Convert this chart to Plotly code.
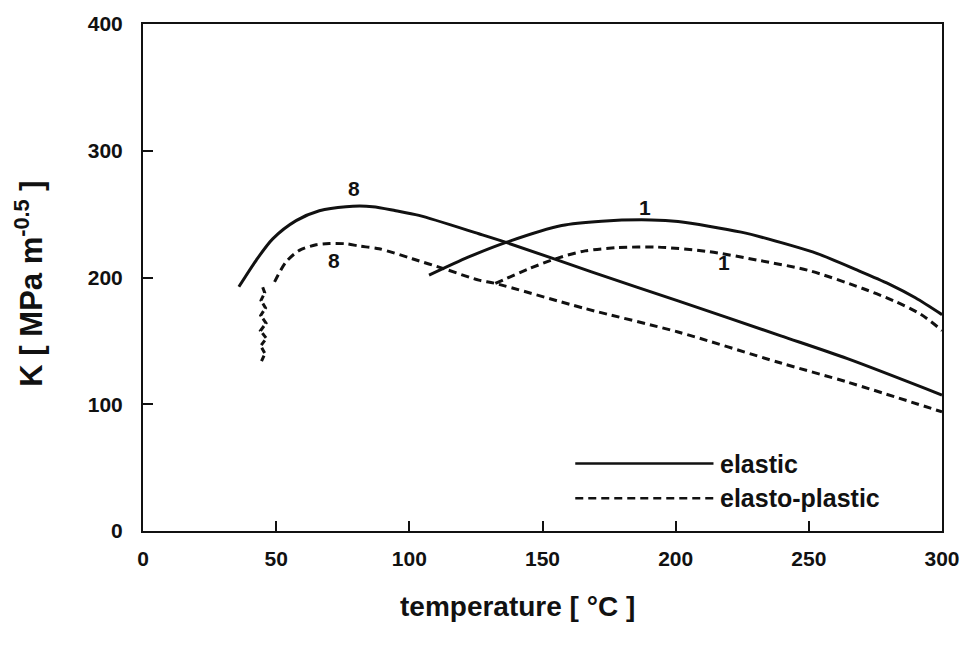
import plotly.graph_objects as go

# Stress intensity K versus temperature, two cases (8 and 1), elastic and elasto-plastic
t_el_8 = [36.0, 42.5, 48.7, 57.5, 66.2, 76.2, 86.2, 94.9, 103.6, 126.1, 136.6,
          168.4, 200.9, 239.5, 264.5, 300.0]
k_el_8 = [192.7, 213.6, 230.5, 244.9, 252.7, 255.9, 255.9, 252.7, 249.0, 234.5, 227.5,
          204.5, 181.5, 154.0, 136.0, 107.3]

t_el_1 = [107.4, 122.3, 136.6, 157.2, 172.2, 190.9, 200.9, 224.6, 243.3, 253.2,
          268.0, 280.0, 290.0, 300.0]
k_el_1 = [201.8, 216.2, 227.9, 241.0, 244.4, 245.4, 244.1, 235.8, 225.3, 218.8,
          206.0, 195.0, 184.0, 170.7]

# elasto-plastic case 8: a jagged vertical start near 45 °C, then a smooth curve
t_pl_8 = [44.5, 45.8, 44.2, 46.3, 44.1, 46.2, 44.2, 46.0, 44.3, 45.7, 44.6,
          49.4, 53.7, 58.7, 65.0, 70.0, 76.2, 81.2, 88.6, 101.1, 113.6, 126.1, 132.3,
          166.0, 200.9, 239.5, 264.5, 300.0]
k_pl_8 = [134.0, 140.0, 146.0, 152.0, 158.0, 164.0, 170.0, 176.0, 182.0, 188.0, 194.3,
          196.6, 212.3, 221.4, 225.8, 226.8, 226.6, 224.8, 222.7, 214.8, 206.5, 197.9, 195.3,
          175.5, 157.0, 132.5, 117.5, 94.0]
n_jagged = 11

t_pl_1 = [132.3, 145.0, 156.0, 166.0, 178.0, 193.0, 212.0, 231.0, 250.0, 270.0,
          282.0, 292.0, 300.0]
k_pl_1 = [195.3, 207.0, 215.5, 221.0, 223.5, 224.0, 220.5, 213.6, 205.5, 191.5,
          181.5, 171.0, 158.2]

# Curve labels: (temperature, K, text)
curve_labels = [(79.3, 270.0, "8"), (71.8, 213.6, "8"), (188.4, 255.3, "1"), (218.3, 212.0, "1")]

x_ticks = [0, 50, 100, 150, 200, 250, 300]
y_ticks = [0, 100, 200, 300, 400]

FONT = "Liberation Sans, Arial, sans-serif"
INK = "#111111"
DASH = "8px,5px"

fig = go.Figure()

solid = dict(color=INK, width=3, shape="spline", smoothing=0.8)
dashed = dict(color=INK, width=3, dash=DASH, shape="spline", smoothing=0.8)

fig.add_trace(go.Scatter(x=t_el_8, y=k_el_8, mode="lines", line=solid, showlegend=False))
fig.add_trace(go.Scatter(x=t_el_1, y=k_el_1, mode="lines", line=solid, showlegend=False))
fig.add_trace(go.Scatter(x=t_pl_8[:n_jagged], y=k_pl_8[:n_jagged], mode="lines",
                         line=dict(color=INK, width=3, dash="6px,3px"), showlegend=False))
fig.add_trace(go.Scatter(x=t_pl_8[n_jagged:], y=k_pl_8[n_jagged:], mode="lines",
                         line=dashed, showlegend=False))
fig.add_trace(go.Scatter(x=t_pl_1, y=k_pl_1, mode="lines", line=dashed, showlegend=False))

for tx, ky, s in curve_labels:
    fig.add_annotation(x=tx, y=ky, text=f"<b>{s}</b>", showarrow=False,
                       font=dict(family=FONT, size=21, color=INK))

# Legend drawn inside the plot, lower right
legend_rows = [("elastic", "solid", 0.133), ("elasto-plastic", DASH, 0.0645)]
for name, dash, yp in legend_rows:
    fig.add_shape(type="line", xref="paper", yref="paper",
                  x0=0.541, x1=0.714, y0=yp, y1=yp,
                  line=dict(color=INK, width=2.5, dash=dash))
    fig.add_annotation(xref="paper", yref="paper", x=0.720, y=yp, xanchor="left",
                       yanchor="middle", text=f"<b>{name}</b>", showarrow=False,
                       font=dict(family=FONT, size=25, color=INK))

# Axis titles
fig.add_annotation(xref="paper", yref="paper", x=0.469, y=-0.149, xanchor="center",
                   yanchor="middle", text="<b>temperature [ °C ]</b>", showarrow=False,
                   font=dict(family=FONT, size=28, color=INK))
fig.add_annotation(xref="paper", yref="paper", x=-0.142, y=0.487, xanchor="center",
                   yanchor="middle", textangle=-90,
                   text="<b>K [ MPa m<sup>-0.5</sup> ]</b>", showarrow=False,
                   font=dict(family=FONT, size=31, color=INK))

axis_common = dict(showgrid=False, zeroline=False, showline=True, linecolor=INK,
                   linewidth=2, mirror=True, ticks="inside", ticklen=10, tickwidth=2,
                   tickcolor=INK, tickfont=dict(family=FONT, size=21, color=INK))

fig.update_xaxes(range=[0, 300], tickvals=x_ticks,
                 ticktext=[f"<b>{v}</b>" for v in x_ticks],
                 ticklabelstandoff=8, **axis_common)
fig.update_yaxes(range=[0, 400], tickvals=y_ticks,
                 ticktext=[f"<b>{v}</b>" for v in y_ticks],
                 ticklabelstandoff=14, **axis_common)

fig.update_layout(width=972, height=653, margin=dict(l=143, r=27, t=20, b=122),
                  paper_bgcolor="white", plot_bgcolor="white")

fig.write_html("out.html")
